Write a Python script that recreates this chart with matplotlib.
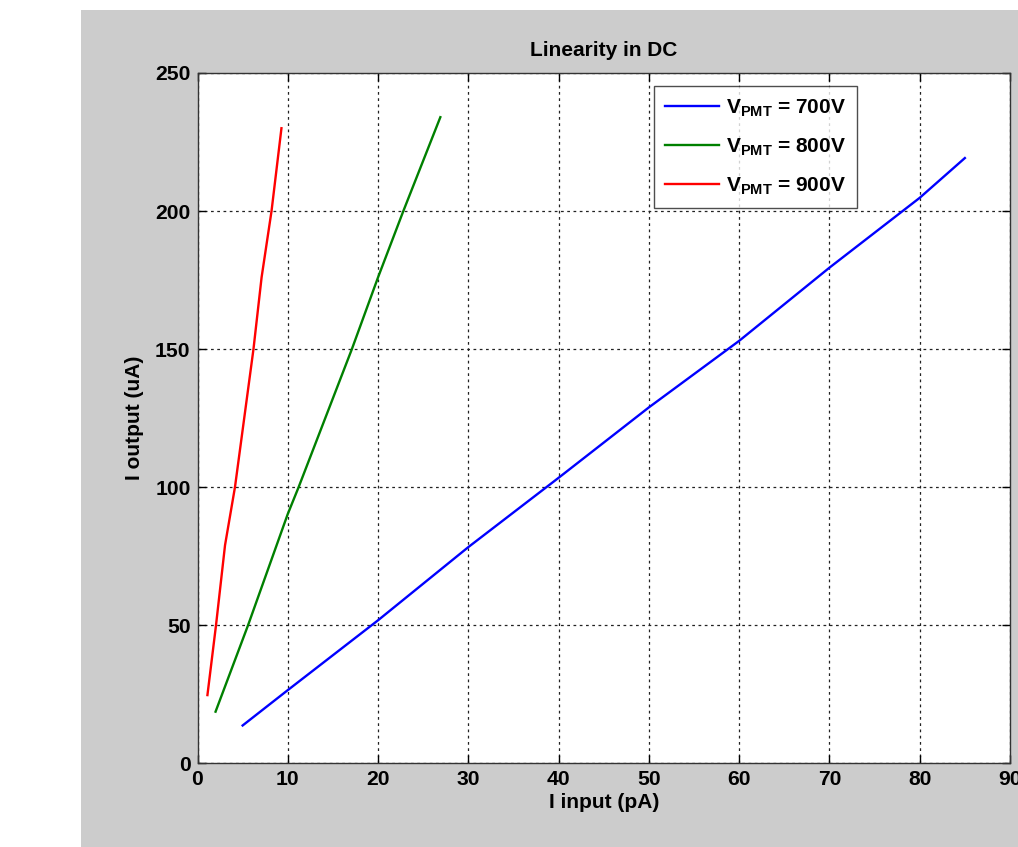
import matplotlib
matplotlib.use("Agg")
import matplotlib.pyplot as plt
from matplotlib.patches import Rectangle

plt.rcParams['font.family'] = ['Liberation Sans', 'DejaVu Sans']
plt.rcParams['font.weight'] = 'bold'
plt.rcParams['mathtext.fontset'] = 'custom'
plt.rcParams['mathtext.rm'] = 'Liberation Sans:bold'
plt.rcParams['mathtext.bf'] = 'Liberation Sans:bold'
plt.rcParams['mathtext.it'] = 'Liberation Sans:bold'

# data
x_700 = [5, 10, 20, 30, 40, 50, 60, 70, 80, 85]
y_700 = [13.7, 26.5, 51.8, 78.3, 103.4, 128.9, 153, 179.5, 204.8, 219.2]
x_800 = [2, 5.6, 10, 11.2, 17.1, 20, 22.8, 26.9]
y_800 = [18.7, 50, 90.3, 100, 150, 176, 200, 234]
x_900 = [1.1, 2.05, 3.05, 4.15, 6.2, 7.1, 8.2, 9.3]
y_900 = [24.7, 50, 79, 100, 150, 176, 200, 230]
labels = [r'$\mathregular{V_{PMT}}$ = 700V', r'$\mathregular{V_{PMT}}$ = 800V', r'$\mathregular{V_{PMT}}$ = 900V']
xticks = [0, 10, 20, 30, 40, 50, 60, 70, 80, 90]
yticks = [0, 50, 100, 150, 200, 250]

W, H = 1018, 847
fig = plt.figure(figsize=(W / 100, H / 100), dpi=100, facecolor='white')
fig.patches.append(Rectangle((81 / W, 0), 1 - 81 / W, (H - 10) / H,
                             transform=fig.transFigure, facecolor='#cccccc',
                             edgecolor='none', zorder=-10))

left, right, top, bottom = 197.5, 1010, 73, 763.3
ax = fig.add_axes([left / W, (H - bottom) / H, (right - left) / W, (bottom - top) / H])
ax.set_facecolor('white')

ax.plot(x_700, y_700, color='#0000ff', lw=1.7, label=labels[0])
ax.plot(x_800, y_800, color='#008000', lw=1.7, label=labels[1])
ax.plot(x_900, y_900, color='#ff0000', lw=1.7, label=labels[2])

ax.set_xlim(0, 90)
ax.set_ylim(0, 250)
ax.set_xticks(xticks)
ax.set_yticks(yticks)
ax.grid(True, color='#222222', linestyle=(0, (2.2, 2.8)), linewidth=0.9)
ax.tick_params(direction='in', length=6, width=1, top=True, right=True,
               labelsize=15.2, colors='black')
ax.tick_params(axis='x', pad=5)
ax.tick_params(axis='y', pad=5)
for lab in ax.get_xticklabels() + ax.get_yticklabels():
    lab.set_fontweight('bold')
for s in ax.spines.values():
    s.set_color('#333333')
    s.set_linewidth(1)

ax.set_title('Linearity in DC', fontsize=15, fontweight='bold', pad=12)
ax.set_xlabel('I input (pA)', fontsize=15, fontweight='bold', labelpad=3)
ax.set_ylabel('I output (uA)', fontsize=15, fontweight='bold', labelpad=8)

leg = ax.legend(loc='upper right', bbox_to_anchor=((857 - left) / (right - left), (bottom - 86) / (bottom - top)),
                fontsize=15, frameon=True, fancybox=False, edgecolor='#222222',
                handlelength=2.6, handletextpad=0.3, borderpad=0.55, labelspacing=0.85,
                borderaxespad=0)
leg.get_frame().set_linewidth(1)
for t in leg.get_texts():
    t.set_fontweight('bold')

fig.savefig('out.png', dpi=100, facecolor=fig.get_facecolor())
